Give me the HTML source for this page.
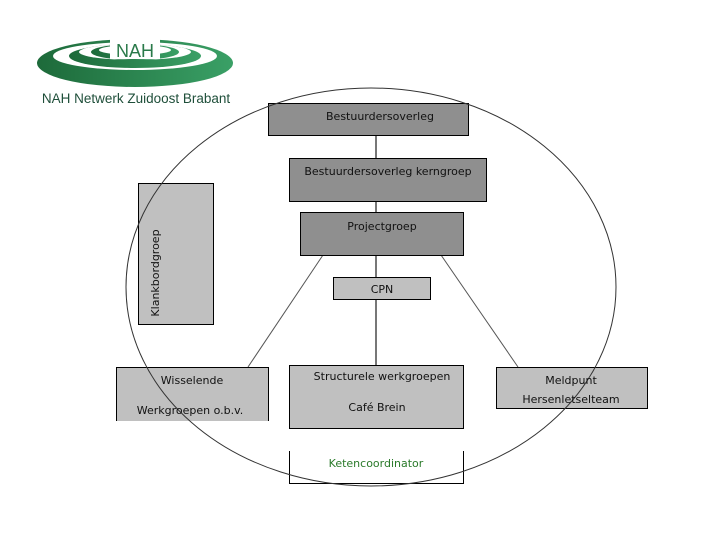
<!DOCTYPE html>
<html><head><meta charset="utf-8"><style>
body{margin:0;width:720px;height:540px;background:#fff;overflow:hidden;font-family:"DejaVu Sans","Liberation Sans",sans-serif}
</style></head><body>
<svg width="720" height="540" xmlns="http://www.w3.org/2000/svg" style="position:absolute;left:0;top:0">
<defs><linearGradient id="g" x1="0" x2="1"><stop offset="0" stop-color="#1d6a3a"/><stop offset="1" stop-color="#3aa066"/></linearGradient></defs>
<!-- logo -->
<ellipse cx="135" cy="63" rx="98" ry="24" fill="url(#g)"/>
<ellipse cx="135" cy="56" rx="82" ry="14" fill="#fff"/>
<ellipse cx="135" cy="56" rx="66" ry="12" fill="url(#g)"/>
<ellipse cx="135" cy="52" rx="56" ry="8" fill="#fff"/>
<ellipse cx="135" cy="52" rx="44" ry="8" fill="url(#g)"/>
<ellipse cx="135" cy="50" rx="36" ry="5" fill="#fff"/>
<rect x="110" y="37" width="50" height="22" fill="#fff"/>
<text x="135" y="57" font-size="18" fill="#2a7a4a" text-anchor="middle" font-family="Liberation Sans,sans-serif">NAH</text>
<text x="136" y="103" font-size="13.5" fill="#1f4f3a" text-anchor="middle" font-family="Liberation Sans,sans-serif">NAH Netwerk Zuidoost Brabant</text>
<!-- lines -->
<g stroke="#555" stroke-width="1" fill="none">
<line x1="376" y1="135" x2="376" y2="365" stroke="#777" stroke-width="2"/>
<line x1="323" y1="255" x2="248" y2="367"/>
<line x1="441" y1="255" x2="518" y2="367"/>
</g>
<g stroke="#000" stroke-width="1">
<rect x="268.5" y="103.5" width="200" height="32" fill="#8f8f8f"/>
<rect x="289.5" y="158.5" width="197" height="43" fill="#8f8f8f"/>
<rect x="300.5" y="212.5" width="163" height="43" fill="#8f8f8f"/>
<rect x="333.5" y="277.5" width="97" height="22" fill="#c0c0c0"/>
<rect x="138.5" y="183.5" width="75" height="141" fill="#c0c0c0"/>
<rect x="289.5" y="365.5" width="174" height="63" fill="#c0c0c0"/>
<rect x="496.5" y="367.5" width="151" height="41" fill="#c0c0c0"/>
</g>
<rect x="116" y="367" width="153" height="54" fill="#c0c0c0"/>
<path d="M116.5 421V367.5H268.5V421" stroke="#000" fill="none"/>
<path d="M289.5 451V483.5H463.5V451" stroke="#000" fill="none"/>
<ellipse cx="371" cy="287" rx="245" ry="199" fill="none" stroke="#333" stroke-width="1"/>
<g font-size="11" fill="#111" text-anchor="middle">
<text x="380" y="120">Bestuurdersoverleg</text>
<text x="388" y="175">Bestuurdersoverleg kerngroep</text>
<text x="382" y="230">Projectgroep</text>
<text x="382" y="293">CPN</text>
<text x="382" y="380">Structurele werkgroepen</text>
<text x="377" y="411">Café Brein</text>
<text x="192" y="384">Wisselende</text>
<text x="190" y="414">Werkgroepen o.b.v.</text>
<text x="571" y="384">Meldpunt</text>
<text x="571" y="403">Hersenletselteam</text>
<text x="376" y="467" fill="#2a7a2a">Ketencoordinator</text>
<text transform="translate(159,273) rotate(-90)">Klankbordgroep</text>
</g>
</svg>
</body></html>
